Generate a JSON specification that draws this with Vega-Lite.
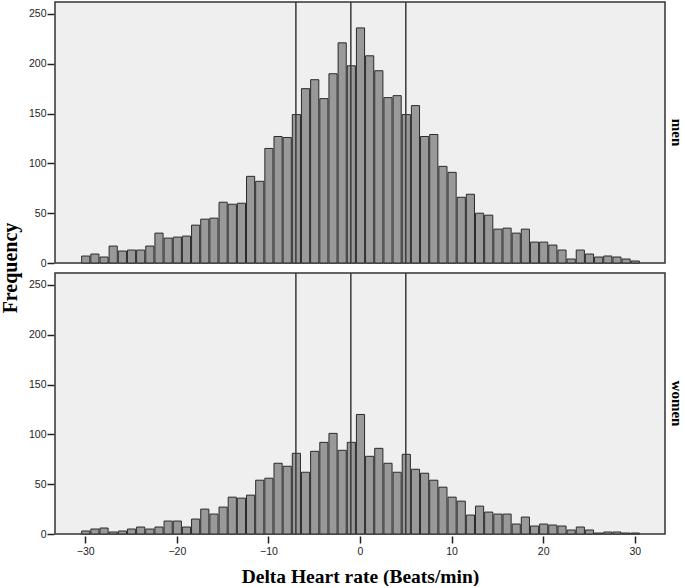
{
 "$schema": "https://vega.github.io/schema/vega-lite/v6.json",
 "padding": {"left": 0, "top": 0, "right": 0, "bottom": 0},
 "background": "white",
 "data": {"values": [
  {"sex":"men","kind":"bar","lo":-30.5,"hi":-29.5,"n":7},
  {"sex":"men","kind":"bar","lo":-29.5,"hi":-28.5,"n":9},
  {"sex":"men","kind":"bar","lo":-28.5,"hi":-27.5,"n":6},
  {"sex":"men","kind":"bar","lo":-27.5,"hi":-26.5,"n":17},
  {"sex":"men","kind":"bar","lo":-26.5,"hi":-25.5,"n":12},
  {"sex":"men","kind":"bar","lo":-25.5,"hi":-24.5,"n":13},
  {"sex":"men","kind":"bar","lo":-24.5,"hi":-23.5,"n":13},
  {"sex":"men","kind":"bar","lo":-23.5,"hi":-22.5,"n":17},
  {"sex":"men","kind":"bar","lo":-22.5,"hi":-21.5,"n":30},
  {"sex":"men","kind":"bar","lo":-21.5,"hi":-20.5,"n":25},
  {"sex":"men","kind":"bar","lo":-20.5,"hi":-19.5,"n":26},
  {"sex":"men","kind":"bar","lo":-19.5,"hi":-18.5,"n":27},
  {"sex":"men","kind":"bar","lo":-18.5,"hi":-17.5,"n":38},
  {"sex":"men","kind":"bar","lo":-17.5,"hi":-16.5,"n":44},
  {"sex":"men","kind":"bar","lo":-16.5,"hi":-15.5,"n":45},
  {"sex":"men","kind":"bar","lo":-15.5,"hi":-14.5,"n":61},
  {"sex":"men","kind":"bar","lo":-14.5,"hi":-13.5,"n":59},
  {"sex":"men","kind":"bar","lo":-13.5,"hi":-12.5,"n":60},
  {"sex":"men","kind":"bar","lo":-12.5,"hi":-11.5,"n":87},
  {"sex":"men","kind":"bar","lo":-11.5,"hi":-10.5,"n":82},
  {"sex":"men","kind":"bar","lo":-10.5,"hi":-9.5,"n":115},
  {"sex":"men","kind":"bar","lo":-9.5,"hi":-8.5,"n":127},
  {"sex":"men","kind":"bar","lo":-8.5,"hi":-7.5,"n":126},
  {"sex":"men","kind":"bar","lo":-7.5,"hi":-6.5,"n":149},
  {"sex":"men","kind":"bar","lo":-6.5,"hi":-5.5,"n":175},
  {"sex":"men","kind":"bar","lo":-5.5,"hi":-4.5,"n":184},
  {"sex":"men","kind":"bar","lo":-4.5,"hi":-3.5,"n":165},
  {"sex":"men","kind":"bar","lo":-3.5,"hi":-2.5,"n":190},
  {"sex":"men","kind":"bar","lo":-2.5,"hi":-1.5,"n":221},
  {"sex":"men","kind":"bar","lo":-1.5,"hi":-0.5,"n":198},
  {"sex":"men","kind":"bar","lo":-0.5,"hi":0.5,"n":236},
  {"sex":"men","kind":"bar","lo":0.5,"hi":1.5,"n":208},
  {"sex":"men","kind":"bar","lo":1.5,"hi":2.5,"n":193},
  {"sex":"men","kind":"bar","lo":2.5,"hi":3.5,"n":166},
  {"sex":"men","kind":"bar","lo":3.5,"hi":4.5,"n":168},
  {"sex":"men","kind":"bar","lo":4.5,"hi":5.5,"n":149},
  {"sex":"men","kind":"bar","lo":5.5,"hi":6.5,"n":158},
  {"sex":"men","kind":"bar","lo":6.5,"hi":7.5,"n":127},
  {"sex":"men","kind":"bar","lo":7.5,"hi":8.5,"n":129},
  {"sex":"men","kind":"bar","lo":8.5,"hi":9.5,"n":97},
  {"sex":"men","kind":"bar","lo":9.5,"hi":10.5,"n":91},
  {"sex":"men","kind":"bar","lo":10.5,"hi":11.5,"n":66},
  {"sex":"men","kind":"bar","lo":11.5,"hi":12.5,"n":69},
  {"sex":"men","kind":"bar","lo":12.5,"hi":13.5,"n":50},
  {"sex":"men","kind":"bar","lo":13.5,"hi":14.5,"n":48},
  {"sex":"men","kind":"bar","lo":14.5,"hi":15.5,"n":34},
  {"sex":"men","kind":"bar","lo":15.5,"hi":16.5,"n":35},
  {"sex":"men","kind":"bar","lo":16.5,"hi":17.5,"n":30},
  {"sex":"men","kind":"bar","lo":17.5,"hi":18.5,"n":34},
  {"sex":"men","kind":"bar","lo":18.5,"hi":19.5,"n":21},
  {"sex":"men","kind":"bar","lo":19.5,"hi":20.5,"n":21},
  {"sex":"men","kind":"bar","lo":20.5,"hi":21.5,"n":18},
  {"sex":"men","kind":"bar","lo":21.5,"hi":22.5,"n":13},
  {"sex":"men","kind":"bar","lo":22.5,"hi":23.5,"n":4},
  {"sex":"men","kind":"bar","lo":23.5,"hi":24.5,"n":13},
  {"sex":"men","kind":"bar","lo":24.5,"hi":25.5,"n":9},
  {"sex":"men","kind":"bar","lo":25.5,"hi":26.5,"n":6},
  {"sex":"men","kind":"bar","lo":26.5,"hi":27.5,"n":7},
  {"sex":"men","kind":"bar","lo":27.5,"hi":28.5,"n":6},
  {"sex":"men","kind":"bar","lo":28.5,"hi":29.5,"n":4},
  {"sex":"men","kind":"bar","lo":29.5,"hi":30.5,"n":2},
  {"sex":"women","kind":"bar","lo":-30.5,"hi":-29.5,"n":3},
  {"sex":"women","kind":"bar","lo":-29.5,"hi":-28.5,"n":5},
  {"sex":"women","kind":"bar","lo":-28.5,"hi":-27.5,"n":6},
  {"sex":"women","kind":"bar","lo":-27.5,"hi":-26.5,"n":2},
  {"sex":"women","kind":"bar","lo":-26.5,"hi":-25.5,"n":3},
  {"sex":"women","kind":"bar","lo":-25.5,"hi":-24.5,"n":5},
  {"sex":"women","kind":"bar","lo":-24.5,"hi":-23.5,"n":7},
  {"sex":"women","kind":"bar","lo":-23.5,"hi":-22.5,"n":5},
  {"sex":"women","kind":"bar","lo":-22.5,"hi":-21.5,"n":7},
  {"sex":"women","kind":"bar","lo":-21.5,"hi":-20.5,"n":13},
  {"sex":"women","kind":"bar","lo":-20.5,"hi":-19.5,"n":13},
  {"sex":"women","kind":"bar","lo":-19.5,"hi":-18.5,"n":7},
  {"sex":"women","kind":"bar","lo":-18.5,"hi":-17.5,"n":15},
  {"sex":"women","kind":"bar","lo":-17.5,"hi":-16.5,"n":25},
  {"sex":"women","kind":"bar","lo":-16.5,"hi":-15.5,"n":20},
  {"sex":"women","kind":"bar","lo":-15.5,"hi":-14.5,"n":27},
  {"sex":"women","kind":"bar","lo":-14.5,"hi":-13.5,"n":37},
  {"sex":"women","kind":"bar","lo":-13.5,"hi":-12.5,"n":36},
  {"sex":"women","kind":"bar","lo":-12.5,"hi":-11.5,"n":39},
  {"sex":"women","kind":"bar","lo":-11.5,"hi":-10.5,"n":54},
  {"sex":"women","kind":"bar","lo":-10.5,"hi":-9.5,"n":56},
  {"sex":"women","kind":"bar","lo":-9.5,"hi":-8.5,"n":71},
  {"sex":"women","kind":"bar","lo":-8.5,"hi":-7.5,"n":68},
  {"sex":"women","kind":"bar","lo":-7.5,"hi":-6.5,"n":81},
  {"sex":"women","kind":"bar","lo":-6.5,"hi":-5.5,"n":62},
  {"sex":"women","kind":"bar","lo":-5.5,"hi":-4.5,"n":83},
  {"sex":"women","kind":"bar","lo":-4.5,"hi":-3.5,"n":92},
  {"sex":"women","kind":"bar","lo":-3.5,"hi":-2.5,"n":101},
  {"sex":"women","kind":"bar","lo":-2.5,"hi":-1.5,"n":84},
  {"sex":"women","kind":"bar","lo":-1.5,"hi":-0.5,"n":92},
  {"sex":"women","kind":"bar","lo":-0.5,"hi":0.5,"n":120},
  {"sex":"women","kind":"bar","lo":0.5,"hi":1.5,"n":78},
  {"sex":"women","kind":"bar","lo":1.5,"hi":2.5,"n":86},
  {"sex":"women","kind":"bar","lo":2.5,"hi":3.5,"n":71},
  {"sex":"women","kind":"bar","lo":3.5,"hi":4.5,"n":62},
  {"sex":"women","kind":"bar","lo":4.5,"hi":5.5,"n":80},
  {"sex":"women","kind":"bar","lo":5.5,"hi":6.5,"n":65},
  {"sex":"women","kind":"bar","lo":6.5,"hi":7.5,"n":61},
  {"sex":"women","kind":"bar","lo":7.5,"hi":8.5,"n":54},
  {"sex":"women","kind":"bar","lo":8.5,"hi":9.5,"n":47},
  {"sex":"women","kind":"bar","lo":9.5,"hi":10.5,"n":37},
  {"sex":"women","kind":"bar","lo":10.5,"hi":11.5,"n":33},
  {"sex":"women","kind":"bar","lo":11.5,"hi":12.5,"n":19},
  {"sex":"women","kind":"bar","lo":12.5,"hi":13.5,"n":28},
  {"sex":"women","kind":"bar","lo":13.5,"hi":14.5,"n":22},
  {"sex":"women","kind":"bar","lo":14.5,"hi":15.5,"n":20},
  {"sex":"women","kind":"bar","lo":15.5,"hi":16.5,"n":20},
  {"sex":"women","kind":"bar","lo":16.5,"hi":17.5,"n":10},
  {"sex":"women","kind":"bar","lo":17.5,"hi":18.5,"n":17},
  {"sex":"women","kind":"bar","lo":18.5,"hi":19.5,"n":8},
  {"sex":"women","kind":"bar","lo":19.5,"hi":20.5,"n":10},
  {"sex":"women","kind":"bar","lo":20.5,"hi":21.5,"n":9},
  {"sex":"women","kind":"bar","lo":21.5,"hi":22.5,"n":8},
  {"sex":"women","kind":"bar","lo":22.5,"hi":23.5,"n":4},
  {"sex":"women","kind":"bar","lo":23.5,"hi":24.5,"n":7},
  {"sex":"women","kind":"bar","lo":24.5,"hi":25.5,"n":4},
  {"sex":"women","kind":"bar","lo":25.5,"hi":26.5,"n":1},
  {"sex":"women","kind":"bar","lo":26.5,"hi":27.5,"n":2},
  {"sex":"women","kind":"bar","lo":27.5,"hi":28.5,"n":2},
  {"sex":"women","kind":"bar","lo":28.5,"hi":29.5,"n":1},
  {"sex":"women","kind":"bar","lo":29.5,"hi":30.5,"n":1},
  {"sex":"men","kind":"cut","lo":-7},
  {"sex":"men","kind":"cut","lo":-1},
  {"sex":"men","kind":"cut","lo":5},
  {"sex":"women","kind":"cut","lo":-7},
  {"sex":"women","kind":"cut","lo":-1},
  {"sex":"women","kind":"cut","lo":5}
 ]},
 "facet": {"row": {"field": "sex", "type": "nominal", "sort": ["men", "women"], "title": "Frequency",
   "header": {"labelOrient": "right", "labelAngle": 90, "labelFont": "Liberation Serif", "labelFontWeight": "bold", "labelFontSize": 15, "labelColor": "#000", "labelPadding": 3,
     "titleOrient": "left", "titleAngle": -90, "titleFont": "Liberation Serif", "titleFontWeight": "bold", "titleFontSize": 20, "titleColor": "#000", "titlePadding": -23}}},
 "spacing": 6,
 "spec": {
  "width": 610,
  "height": 261,
  "layer": [
   {"transform": [{"filter": "datum.kind === 'bar'"}],
    "mark": {"type": "bar", "fill": "#999999", "stroke": "#2a2a2a", "strokeWidth": 1},
    "encoding": {
     "x": {"field": "lo", "type": "quantitative", "bin": {"binned": true, "step": 1}, "scale": {"domain": [-33.3, 33.3], "nice": false},
       "axis": {"title": "Delta Heart rate (Beats/min)", "values": [-30, -20, -10, 0, 10, 20, 30], "format": "d", "grid": false, "domain": false, "tickSize": 7, "tickColor": "#222", "tickWidth": 1.5, "labelFont": "Liberation Sans", "labelFontSize": 10.5, "labelColor": "#222", "labelPadding": 3,
         "titleFont": "Liberation Serif", "titleFontWeight": "bold", "titleFontSize": 19.5, "titleColor": "#000", "titlePadding": 11}},
     "x2": {"field": "hi"},
     "y": {"field": "n", "type": "quantitative", "scale": {"domain": [0, 262], "nice": false},
       "axis": {"title": null, "values": [0, 50, 100, 150, 200, 250], "grid": false, "domain": false, "tickSize": 7, "tickColor": "#222", "tickWidth": 1.5, "labelFont": "Liberation Sans", "labelFontSize": 10.5, "labelColor": "#222", "labelPadding": 1}}
    }},
   {"transform": [{"filter": "datum.kind === 'cut'"}],
    "mark": {"type": "rule", "stroke": "#3a3a3a", "strokeWidth": 1.5},
    "encoding": {"x": {"field": "lo", "type": "quantitative"}}}
  ]
 },
 "config": {"view": {"fill": "#efefef", "stroke": "#333", "strokeWidth": 1.5}}
}
